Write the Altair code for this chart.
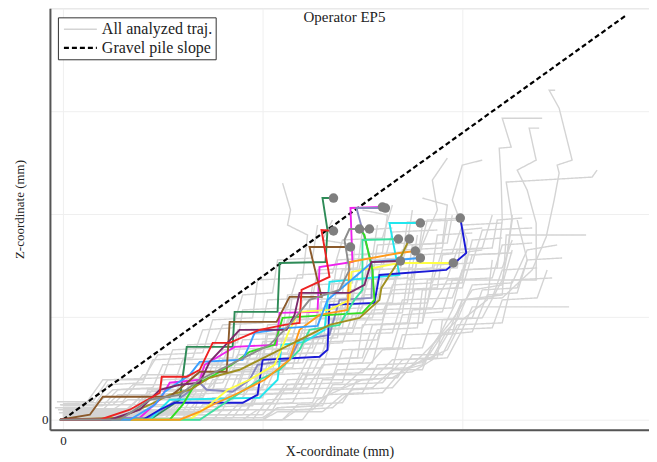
import altair as alt
import pandas as pd

# ---------------- data (X and Z coordinates, mm) ----------------
kinds = ["All analyzed traj.", "Gravel pile slope"]

slope_x = [0, 564]
slope_z = [0, 405]

traj_names = ["T01", "T02", "T03", "T04", "T05", "T06", "T07", "T08",
              "T09", "T10", "T11", "T12", "T13", "T14", "T15"]
traj_colors = ["#2e8b57", "#ee22ee", "#8888c0", "#22e6ee", "#1a1ad6",
               "#ffff44", "#33dd22", "#3ee0a0", "#ff9a1a", "#a09020",
               "#3aa0ff", "#8b5a2b", "#7a2a6a", "#ee2222", "#8c8c8c"]
traj_points = [
    [(-3, 0), (87, 0), (117, 20), (124, 73), (170, 73), (172, 108), (215, 108), (217, 157), (263, 158), (265, 190), (260, 222), (271, 222)],
    [(-3, 0), (77, 2), (97, 20), (107, 37), (137, 40), (142, 55), (172, 73), (214, 75), (217, 107), (255, 108), (257, 153), (290, 158), (288, 212), (320, 213)],
    [(-3, 0), (87, 2), (122, 25), (137, 37), (144, 30), (170, 28), (187, 40), (195, 55), (227, 60), (237, 80), (267, 85), (277, 120), (309, 122), (310, 153), (294, 212), (323, 212)],
    [(-3, 0), (87, 0), (107, 20), (197, 22), (215, 40), (219, 75), (242, 78), (262, 90), (267, 138), (337, 145), (327, 197), (358, 197)],
    [(-3, 0), (80, 0), (97, 10), (112, 17), (180, 17), (195, 25), (200, 60), (257, 63), (265, 70), (267, 115), (312, 117), (317, 145), (384, 150), (404, 167), (398, 202)],
    [(-3, 0), (127, 0), (147, 15), (165, 30), (187, 40), (212, 55), (227, 90), (237, 108), (267, 110), (287, 120), (289, 148), (337, 157), (391, 157)],
    [(-3, 0), (107, 0), (120, 15), (132, 35), (152, 45), (169, 55), (187, 68), (212, 75), (220, 102), (300, 107), (312, 120), (310, 150), (302, 185), (297, 191)],
    [(-3, 0), (137, 0), (167, 20), (197, 40), (217, 50), (237, 70), (247, 90), (277, 95), (292, 120), (300, 130), (300, 180), (336, 181)],
    [(-3, 0), (117, 0), (137, 8), (152, 16), (172, 25), (202, 40), (227, 60), (237, 90), (257, 105), (285, 110), (287, 158), (337, 167), (353, 169)],
    [(-3, 0), (57, 2), (87, 15), (107, 25), (127, 30), (147, 42), (177, 50), (207, 65), (237, 80), (267, 95), (297, 102), (317, 120), (319, 132), (337, 160), (347, 181)],
    [(-3, 0), (67, 0), (92, 15), (102, 28), (127, 45), (137, 58), (180, 60), (187, 75), (192, 87), (227, 92), (255, 94), (265, 120), (277, 130), (310, 158), (358, 162)],
    [(-3, 0), (27, 5), (40, 23), (107, 23), (122, 35), (137, 48), (164, 48), (167, 98), (214, 98), (227, 123), (259, 123), (247, 173), (288, 173)],
    [(-3, 0), (47, 0), (77, 10), (97, 30), (117, 35), (137, 37), (147, 58), (177, 90), (224, 90), (232, 105), (237, 127), (287, 127), (302, 135), (309, 158), (338, 159)],
    [(-3, 0), (37, 0), (67, 10), (97, 27), (99, 43), (124, 43), (137, 50), (150, 77), (167, 77), (197, 90), (222, 95), (237, 97), (239, 130), (267, 143), (259, 190), (271, 189)],
    [(-3, 0), (57, 0), (87, 20), (117, 25), (137, 40), (177, 60), (207, 75), (227, 95), (247, 120), (277, 130), (287, 150), (282, 180), (287, 191), (307, 191)],
]

gray_paths = [
    [(0, 5), (60, 5), (75, 20), (140, 22), (150, 40), (200, 42), (210, 70), (250, 72), (255, 110), (300, 112), (305, 150), (350, 152), (355, 185)],
    [(-5, 10), (40, 10), (55, 25), (110, 25), (125, 45), (170, 47), (180, 80), (230, 82), (240, 120), (290, 122), (300, 165), (340, 168)],
    [(0, 0), (100, 0), (115, 12), (190, 14), (200, 35), (240, 36), (250, 60), (300, 62), (310, 95), (360, 97), (365, 140), (400, 142), (410, 180), (440, 182)],
    [(-8, 12), (30, 12), (50, 30), (90, 32), (100, 55), (160, 57), (170, 85), (220, 87), (225, 125), (270, 127), (275, 160), (310, 162), (315, 195)],
    [(0, 2), (130, 2), (140, 15), (210, 17), (225, 40), (270, 42), (280, 70), (330, 72), (340, 105), (380, 108), (390, 140), (430, 142), (440, 175), (470, 177)],
    [(0, 8), (70, 8), (90, 30), (150, 30), (160, 60), (200, 62), (205, 95), (245, 97), (250, 135), (290, 137), (292, 175), (260, 180), (270, 200)],
    [(-3, 15), (50, 15), (70, 35), (120, 35), (135, 55), (190, 55), (200, 75), (260, 77), (265, 105), (320, 107), (330, 130), (375, 132), (380, 165), (420, 170)],
    [(0, 0), (160, 0), (175, 15), (230, 17), (245, 45), (300, 47), (320, 70), (360, 72), (370, 100), (410, 102), (420, 130), (455, 132), (465, 160), (500, 162)],
    [(0, 3), (90, 3), (110, 18), (170, 20), (180, 50), (230, 52), (240, 90), (280, 92), (285, 130), (330, 132), (340, 170), (380, 172), (385, 200)],
    [(0, 12), (20, 12), (40, 40), (80, 40), (95, 65), (140, 67), (150, 100), (190, 102), (195, 140), (240, 142), (245, 185), (225, 195), (228, 210), (220, 237)],
    [(0, 6), (110, 6), (125, 28), (175, 30), (185, 60), (215, 62), (225, 100), (265, 102), (270, 140), (310, 142), (315, 175), (345, 177), (350, 210)],
    [(0, 0), (200, 0), (215, 12), (260, 14), (270, 35), (320, 37), (340, 60), (370, 62), (385, 90), (430, 92), (440, 120), (475, 122), (485, 150)],
    [(-6, 18), (30, 18), (45, 40), (100, 42), (110, 70), (150, 72), (160, 95), (200, 97), (205, 120), (250, 122), (255, 150), (295, 152), (300, 190), (330, 192)],
    [(0, 4), (80, 4), (95, 22), (140, 24), (160, 48), (210, 48), (215, 80), (275, 82), (280, 115), (330, 117), (335, 150), (370, 152), (375, 185), (410, 187)],
    [(0, 0), (180, 0), (195, 10), (250, 10), (265, 25), (300, 27), (315, 55), (360, 57), (380, 90), (395, 120), (430, 122), (440, 150), (475, 152)],
    [(0, 10), (50, 10), (65, 20), (120, 20), (130, 45), (180, 45), (190, 70), (240, 72), (245, 110), (285, 112), (295, 140), (345, 142), (350, 175), (385, 177), (390, 205)],
    [(0, 2), (120, 2), (135, 20), (180, 22), (190, 55), (235, 57), (245, 85), (290, 87), (300, 115), (345, 117), (350, 150), (395, 152), (400, 190), (420, 192)],
    [(-4, 7), (60, 7), (80, 25), (130, 27), (140, 52), (195, 52), (200, 78), (250, 80), (258, 118), (300, 120), (310, 155), (355, 157), (360, 195)],
    [(0, 0), (220, 0), (235, 15), (280, 17), (295, 40), (335, 42), (350, 65), (380, 65), (395, 95), (440, 97), (450, 140), (490, 142)],
    [(0, 14), (40, 14), (55, 30), (110, 32), (120, 60), (170, 62), (175, 90), (225, 92), (230, 125), (280, 127), (285, 165), (320, 167), (325, 205), (300, 210)],
    [(0, 0), (220, 0), (235, 10), (270, 12), (290, 30), (330, 32), (350, 55), (370, 75), (390, 100), (410, 130), (440, 135), (450, 170)],
    [(0, 5), (200, 5), (220, 30), (280, 32), (300, 50), (345, 52), (385, 70), (400, 100), (425, 120), (430, 160)],
    [(0, 0), (240, 0), (255, 20), (300, 40), (330, 42), (360, 60), (385, 62), (400, 90), (410, 113), (507, 113)],
    [(0, 8), (150, 8), (165, 25), (230, 27), (240, 45), (320, 45), (350, 48), (370, 60), (385, 85), (400, 120), (440, 125), (444, 185), (524, 185)],
    [(0, 2), (170, 2), (180, 15), (250, 17), (260, 40), (310, 40), (330, 60), (375, 62), (380, 100), (420, 102), (440, 140), (445, 165), (450, 200), (444, 238), (530, 243), (535, 250)],
    [(0, 0), (190, 0), (205, 20), (260, 22), (275, 50), (330, 52), (340, 85), (390, 87), (400, 120), (440, 122), (470, 150), (484, 183), (492, 220), (497, 247), (495, 255), (510, 260), (497, 312), (487, 330), (493, 330)],
    [(0, 4), (100, 4), (120, 20), (180, 22), (200, 50), (260, 52), (270, 85), (330, 87), (340, 120), (390, 122), (400, 150), (435, 152), (440, 200), (439, 238), (437, 272), (449, 273), (440, 302), (480, 302)],
    [(0, 10), (70, 10), (85, 28), (150, 30), (160, 60), (230, 62), (240, 90), (300, 92), (310, 110), (370, 112), (385, 140), (474, 140), (474, 197), (465, 230), (455, 250), (474, 260), (467, 292), (477, 292)],
    [(0, 6), (130, 6), (140, 30), (200, 32), (210, 65), (260, 67), (270, 100), (320, 100), (330, 135), (370, 137), (380, 170), (420, 172), (430, 205)],
    [(-2, 15), (90, 15), (100, 40), (150, 42), (160, 70), (210, 72), (220, 110), (270, 112), (280, 150), (320, 152), (330, 188), (375, 190)],
    [(0, 0), (150, 0), (160, 10), (210, 10), (225, 35), (280, 37), (290, 70), (340, 72), (350, 110), (390, 112), (400, 150), (440, 152), (450, 180)],
    [(0, 3), (60, 3), (75, 15), (120, 15), (135, 35), (160, 37), (175, 65), (225, 67), (235, 100), (285, 102), (295, 140), (335, 142), (345, 175), (380, 177), (385, 215), (360, 222)],
    [(0, 9), (110, 9), (120, 25), (160, 27), (170, 50), (220, 50), (235, 80), (270, 82), (280, 120), (310, 122), (320, 160), (355, 162), (365, 200), (400, 202)],
    [(0, 0), (200, 0), (215, 8), (260, 8), (280, 25), (320, 27), (340, 50), (360, 55), (380, 85), (410, 88), (425, 125), (455, 127), (465, 160), (455, 200)],
    [(0, 11), (80, 11), (85, 30), (140, 30), (150, 55), (200, 57), (205, 85), (255, 87), (260, 125), (300, 127), (305, 160), (340, 162), (345, 198), (395, 200)],
    [(0, 5), (100, 5), (115, 20), (165, 22), (175, 45), (220, 47), (230, 75), (280, 77), (290, 105), (340, 107), (345, 140), (385, 142), (395, 170), (430, 172), (435, 200), (460, 202)],
    [(0, 12), (30, 12), (45, 35), (80, 37), (90, 60), (130, 62), (140, 90), (170, 92), (180, 125), (210, 127), (215, 160), (250, 162), (255, 195)],
    [(0, 7), (140, 7), (150, 22), (200, 22), (210, 45), (250, 47), (265, 78), (315, 80), (325, 115), (365, 117), (372, 155), (410, 157), (420, 190), (470, 192)],
    [(0, 0), (120, 0), (130, 8), (185, 10), (195, 30), (245, 32), (260, 55), (300, 57), (315, 90), (355, 92), (360, 130), (395, 132), (405, 165), (450, 167)],
    [(0, 16), (60, 18), (80, 45), (120, 45), (125, 75), (175, 77), (180, 110), (225, 112), (235, 145), (270, 147), (280, 180), (320, 182), (330, 215)],
    [(0, 2), (200, 2), (215, 12), (255, 14), (270, 30), (310, 32), (330, 50), (360, 50), (370, 75), (395, 100), (410, 135), (450, 137), (465, 170), (495, 175)],
    [(0, 4), (50, 4), (70, 12), (110, 14), (125, 30), (190, 30), (200, 55), (240, 57), (255, 90), (290, 92), (300, 125), (350, 127), (355, 165), (390, 167), (400, 195), (440, 197)],
    [(0, 10), (160, 10), (170, 30), (230, 30), (245, 60), (295, 62), (300, 95), (345, 97), (352, 130), (400, 132), (410, 165), (445, 167), (450, 205)],
    [(0, 5), (180, 5), (195, 25), (250, 27), (260, 55), (310, 57), (320, 95), (360, 97), (370, 135), (400, 137), (405, 180), (390, 220), (400, 255), (420, 260)],
    [(0, 8), (120, 8), (135, 30), (190, 32), (200, 65), (250, 67), (265, 100), (310, 102), (320, 140), (350, 142), (360, 175), (375, 210), (370, 240), (385, 262)],
]

# ---------------- tables ----------------
gray_rows = []
for i, path in enumerate(gray_paths):
    for j, (x, z) in enumerate(path):
        gray_rows.append({"id": f"g{i}", "step": j, "x": x, "z": z, "kind": kinds[0]})
gray_df = pd.DataFrame(gray_rows)

slope_df = pd.DataFrame({"id": "slope", "step": [0, 1], "x": slope_x, "z": slope_z,
                         "kind": kinds[1]})

col_rows = []
end_rows = []
for name, color, pts in zip(traj_names, traj_colors, traj_points):
    for j, (x, z) in enumerate(pts):
        col_rows.append({"traj": name, "step": j, "x": x, "z": z})
    end_rows.append({"traj": name, "x": pts[-1][0], "z": pts[-1][1]})
col_df = pd.DataFrame(col_rows)
end_df = pd.DataFrame(end_rows)

# ---------------- encodings ----------------
FONT = "Liberation Serif"
x_scale = alt.Scale(domain=[-13, 587], nice=False, zero=False)
y_scale = alt.Scale(domain=[-10, 412], nice=False, zero=False)

x_axis = alt.Axis(title="X-coordinate (mm)", values=[0, 200, 400],
                  labelExpr="datum.value == 0 ? '0' : ''", ticks=False,
                  grid=True, gridColor="#efefef", gridWidth=1,
                  domainColor="#555555", domainWidth=2,
                  labelFont=FONT, labelFontSize=13, labelColor="#222222", labelPadding=5,
                  titleFont=FONT, titleFontSize=14, titleFontWeight="normal",
                  titleColor="#222222", titleX=290, titleY=15, titleBaseline="top")
y_axis = alt.Axis(title="Z-coordinate (mm)", values=[0, 103, 206, 309],
                  labelExpr="datum.value == 0 ? '0' : ''", ticks=False,
                  grid=True, gridColor="#efefef", gridWidth=1,
                  domainColor="#555555", domainWidth=2,
                  labelFont=FONT, labelFontSize=13, labelColor="#222222", labelPadding=2,
                  titleFont=FONT, titleFontSize=13, titleFontWeight="normal",
                  titleColor="#222222", titleX=-23, titleY=201, titleAngle=270,
                  titleBaseline="bottom")

X = alt.X("x:Q", scale=x_scale, axis=x_axis)
Y = alt.Y("z:Q", scale=y_scale, axis=y_axis)

legend = alt.Legend(
    title=None, orient="none", legendX=8, legendY=9,
    strokeColor="#333333", fillColor="white", padding=3,
    symbolType="M-2,0H2", symbolSize=272, symbolStrokeWidth=1.8,
    symbolOffset=10,
    labelFont=FONT, labelFontSize=16, labelColor="#222222",
    labelOffset=12, rowPadding=1,
)

dash_kind = alt.StrokeDash("kind:N", scale=alt.Scale(domain=kinds, range=[[1, 0], [5, 3]]),
                           legend=legend)
color_kind = alt.Color("kind:N", scale=alt.Scale(domain=kinds, range=["#d4d4d4", "#000000"]),
                       legend=legend)
width_kind = alt.StrokeWidth("kind:N", scale=alt.Scale(domain=kinds, range=[1.4, 2.2]),
                             legend=None)

gray_layer = alt.Chart(gray_df).mark_line().encode(
    x=X, y=Y, detail="id:N", order=alt.Order("step:Q"),
    color=color_kind, strokeDash=dash_kind, strokeWidth=width_kind)

slope_layer = alt.Chart(slope_df).mark_line().encode(
    x=X, y=Y, detail="id:N", order=alt.Order("step:Q"),
    color=color_kind, strokeDash=dash_kind, strokeWidth=width_kind)

base = alt.layer(gray_layer, slope_layer)

col_layer = alt.Chart(col_df).mark_line(strokeWidth=1.9).encode(
    x=X, y=Y, order=alt.Order("step:Q"),
    color=alt.Color("traj:N", scale=alt.Scale(domain=traj_names, range=traj_colors),
                    legend=None))

dot_layer = alt.Chart(end_df).mark_circle(size=90, color="#7f7f7f", opacity=1).encode(
    x=X, y=Y)

chart = alt.layer(base, col_layer, dot_layer).resolve_scale(
    color="independent", strokeDash="independent", strokeWidth="independent"
).properties(
    width=600, height=422,
    autosize=alt.AutoSizeParams(type="none"),
    padding={"left": 42, "top": 0, "right": 0, "bottom": 32},
    title=alt.TitleParams("Operator EP5", font=FONT, fontSize=15, fontWeight="normal",
                          color="#222222", anchor="middle", baseline="top",
                          offset=0, dy=17, dx=-5),
).configure_view(strokeWidth=0).configure(background="white")

chart.save("out.html", embed_options={"renderer": "svg", "actions": False})
